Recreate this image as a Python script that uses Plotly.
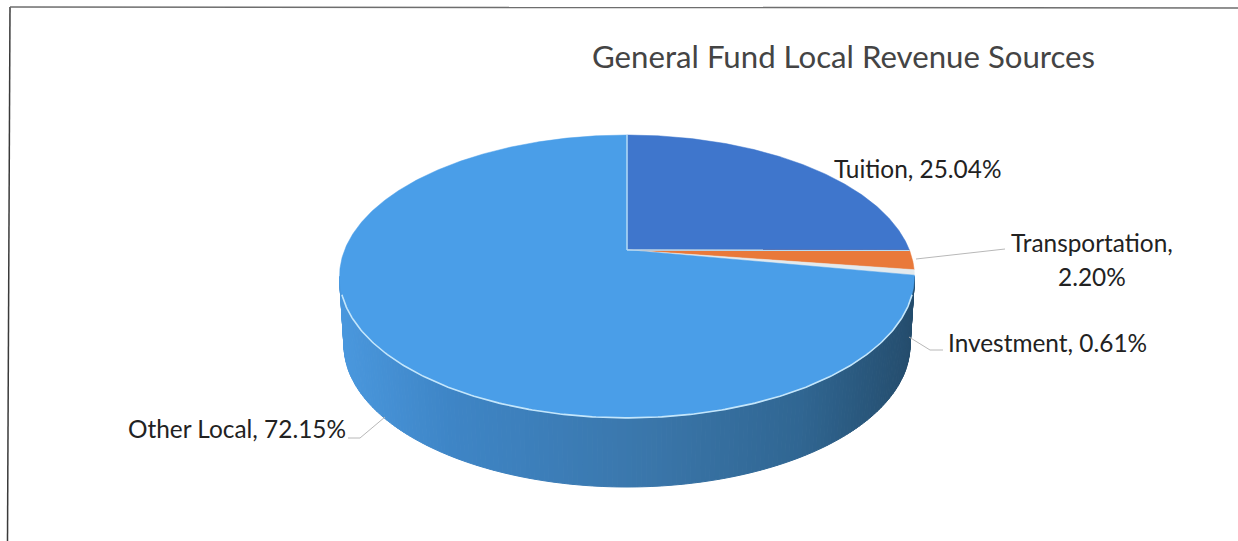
import numpy as np
import plotly.graph_objects as go

# Slices, clockwise from twelve o'clock
categories = ["Tuition", "Transportation", "Investment", "Other Local"]
shares = [25.04, 2.20, 0.61, 72.15]
slice_colors = ["#3f76cc", "#e9793a", "#e3eaee", "#4a9ee8"]

TITLE = "General Fund Local Revenue Sources"
FONT = "Lato"

# Tilted disc: a circle seen in perspective, with its apex above the ellipse centre
APEX_X, APEX_Y = 627.0, 250.0
SCALE_X, SCALE_Y, TILT = 282.4, 136.5, -0.187
# Lower rim of the disc's wall
RIM_CY, RIM_RX, RIM_RY = 345.0, 283.0, 142.0
TOP_CY, TOP_RX, TOP_RY = 276.5, 287.5, 141.5


def project(fraction):
    """Map a clockwise fraction of the full turn to a point on the disc's top rim."""
    theta = 2 * np.pi * np.asarray(fraction, dtype=float)
    u, v = np.sin(theta), -np.cos(theta)
    w = 1 + TILT * v
    return APEX_X + SCALE_X * u / w, APEX_Y + SCALE_Y * v / w


def mix(stops, t):
    positions = [s[0] for s in stops]
    channels = [np.interp(t, positions, [s[1][i] for s in stops]) for i in range(3)]
    return "rgb({:.0f},{:.0f},{:.0f})".format(*channels)


WALL_STOPS = [
    (339, (74, 152, 222)),
    (450, (62, 133, 198)),
    (650, (58, 118, 170)),
    (800, (48, 102, 146)),
    (914, (36, 76, 108)),
]

fig = go.Figure()

# Side wall, shaded left to right in narrow strips
angles = np.linspace(0, np.pi, 181)
for a, b in zip(angles[:-1], angles[1:]):
    xs = [APEX_X + TOP_RX * np.cos(a), APEX_X + TOP_RX * np.cos(b),
          APEX_X + RIM_RX * np.cos(b), APEX_X + RIM_RX * np.cos(a)]
    ys = [TOP_CY + TOP_RY * np.sin(a), TOP_CY + TOP_RY * np.sin(b),
          RIM_CY + RIM_RY * np.sin(b), RIM_CY + RIM_RY * np.sin(a)]
    color = mix(WALL_STOPS, np.mean(xs))
    fig.add_trace(go.Scatter(x=xs + xs[:1], y=ys + ys[:1], mode="lines", fill="toself",
                             fillcolor=color, line=dict(color=color, width=1),
                             hoverinfo="skip", showlegend=False))

# Top face, one filled wedge per share
edges = np.cumsum([0] + shares) / sum(shares)
for name, start, end, color in zip(categories, edges[:-1], edges[1:], slice_colors):
    n = max(int((end - start) * 720), 6)
    rx, ry = project(np.linspace(start, end, n))
    fig.add_trace(go.Scatter(x=np.r_[APEX_X, rx, APEX_X], y=np.r_[APEX_Y, ry, APEX_Y],
                             mode="lines", fill="toself", fillcolor=color,
                             line=dict(color=color, width=0.5), name=name,
                             hoverinfo="name", showlegend=False))

# Pale highlights on the slice boundaries and the front of the rim
for boundary in (edges[0], edges[1]):
    ex, ey = project(boundary)
    fig.add_trace(go.Scatter(x=[APEX_X, ex], y=[APEX_Y, ey], mode="lines",
                             line=dict(color="#b4daf6", width=1.5),
                             hoverinfo="skip", showlegend=False))
fx, fy = project(np.linspace(0.30, 0.70, 240))
fig.add_trace(go.Scatter(x=fx, y=fy, mode="lines", line=dict(color="#c4e6fb", width=1.6),
                         hoverinfo="skip", showlegend=False))

# Leader lines
leaders = [
    ([916, 1005], [259, 249]),
    ([909, 930, 943], [337, 350, 350]),
    ([385, 360, 348], [417, 438, 438]),
]
for lx, ly in leaders:
    fig.add_trace(go.Scatter(x=lx, y=ly, mode="lines", line=dict(color="#b8b8b8", width=1),
                             hoverinfo="skip", showlegend=False))

# Scanned frame: dark left edge and greyer top edge
fig.add_trace(go.Scatter(x=[10, 7.5], y=[7, 541], mode="lines",
                         line=dict(color="#3a3a3a", width=1.5), hoverinfo="skip", showlegend=False))
fig.add_trace(go.Scatter(x=[10, 1238], y=[7, 8], mode="lines",
                         line=dict(color="#6e6e6e", width=1.5), hoverinfo="skip", showlegend=False))


def label(text, x, y, size, color="#222222", anchor="left"):
    fig.add_annotation(x=x, y=y, text=text, showarrow=False, xanchor=anchor, yanchor="middle",
                       align="center", font=dict(family=FONT, size=size, color=color))


label(TITLE, 590, 56, 31.2, "#444444")
label(f"{categories[0]}, {shares[0]:.2f}%", 832, 168, 24.4)
label(f"{categories[1]},", 1009, 242, 24.4)
label(f"{shares[1]:.2f}%", 1092, 276, 24.4, anchor="center")
label(f"{categories[2]}, {shares[2]:.2f}%", 946, 342, 24.4)
label(f"{categories[3]}, {shares[3]:.2f}%", 126, 428, 24.4)

fig.update_layout(
    width=1238, height=541, margin=dict(l=0, r=0, t=0, b=0),
    paper_bgcolor="#ffffff", plot_bgcolor="#ffffff", showlegend=False,
    xaxis=dict(range=[0, 1238], visible=False, fixedrange=True),
    yaxis=dict(range=[541, 0], visible=False, fixedrange=True),
)
fig.write_html("out.html", config={"displayModeBar": False})
